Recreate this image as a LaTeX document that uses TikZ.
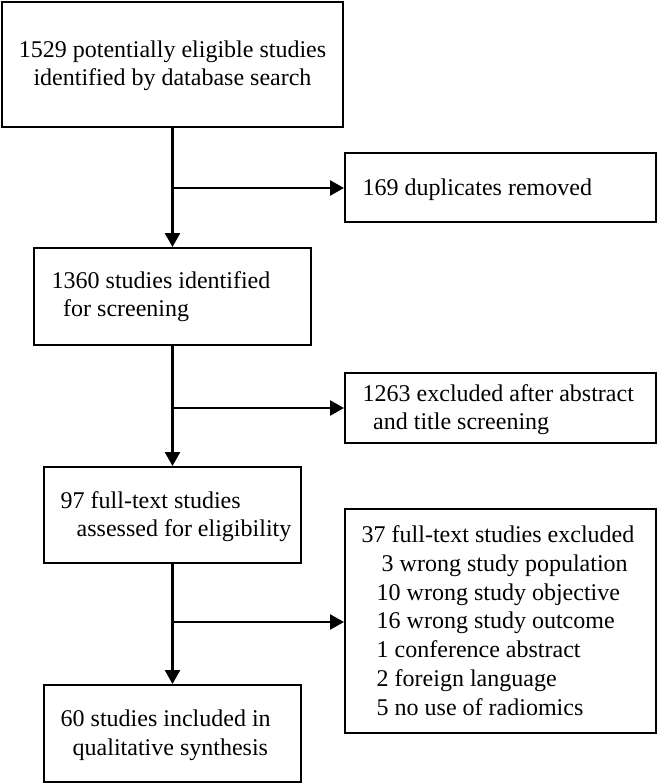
\documentclass[tikz,border=0pt]{standalone}
\usepackage{fontspec}
\setmainfont{Liberation Serif}
\usetikzlibrary{arrows.meta}
\begin{document}
\begin{tikzpicture}[x=1pt,y=-1pt,
  box/.style={draw=black, line width=2pt, rectangle, inner sep=0pt},
  txt/.style={inner sep=0pt, anchor=base west, font=\fontsize{24}{28}\selectfont},
  ctxt/.style={txt, anchor=base},
  arr/.style={line width=2.5pt, -{Triangle[length=14pt,width=15pt]}}]
\useasboundingbox (0,0) rectangle (658,784);
% boxes
\node[box, minimum width=341pt, minimum height=125pt] (box1) at (172.5,64.5) {};
\node[box, minimum width=311pt, minimum height=69pt] (box2) at (500.5,187.5) {};
\node[box, minimum width=277pt, minimum height=97pt] (box3) at (172.5,296.5) {};
\node[box, minimum width=311pt, minimum height=70pt] (box4) at (500.5,408) {};
\node[box, minimum width=257pt, minimum height=96pt] (box5) at (172.5,515) {};
\node[box, minimum width=311pt, minimum height=224pt] (box6) at (500.5,621) {};
\node[box, minimum width=257pt, minimum height=97pt] (box7) at (172.5,733.5) {};
% texts
\node[ctxt] (t1a) at (172.5,57) {1529 potentially eligible studies};
\node[ctxt] (t1b) at (172.5,85) {identified by database search};
\node[txt] (t2a) at (362.5,195) {169 duplicates removed};
\node[txt] (t3a) at (51.5,288.5) {1360 studies identified};
\node[txt] (t3b) at (63,316.5) {for screening};
\node[txt] (t4a) at (362.5,401.7) {1263 excluded after abstract};
\node[txt] (t4b) at (373,429.7) {and title screening};
\node[txt] (t5a) at (60.5,508.3) {97 full-text studies};
\node[txt] (t5b) at (76.5,536.7) {assessed for eligibility};
\node[txt] (t6a) at (361.5,542.7) {37 full-text studies excluded};
\node[txt] (t6b) at (381.5,571.7) {3 wrong study population};
\node[txt] (t6c) at (376.5,600) {10 wrong study objective};
\node[txt] (t6d) at (376.5,628.5) {16 wrong study outcome};
\node[txt] (t6e) at (376.5,657.3) {1 conference abstract};
\node[txt] (t6f) at (376.5,686) {2 foreign language};
\node[txt] (t6g) at (376.5,715) {5 no use of radiomics};
\node[txt] (t7a) at (60.5,726.7) {60 studies included in};
\node[txt] (t7b) at (72.5,755) {qualitative synthesis};
% branch points
\coordinate (c1) at (172.5,188);
\coordinate (c2) at (172.5,408);
\coordinate (c3) at (172.5,622);
% connectors
\draw[arr] (box1.south) -- (box3.north);
\draw[arr] (c1) -- (c1 -| box2.west);
\draw[arr] (box3.south) -- (box5.north);
\draw[arr] (c2) -- (c2 -| box4.west);
\draw[arr] (box5.south) -- (box7.north);
\draw[arr] (c3) -- (c3 -| box6.west);
\end{tikzpicture}
\end{document}
